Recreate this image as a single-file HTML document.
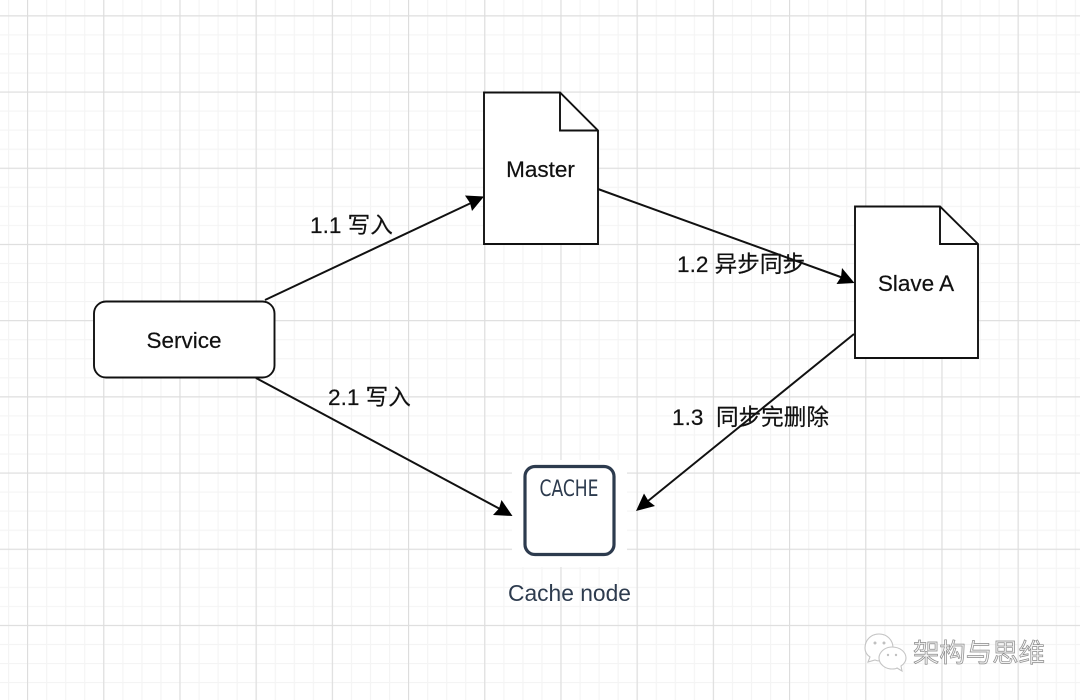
<!DOCTYPE html>
<html lang="zh">
<head>
<meta charset="utf-8">
<title>Cache diagram</title>
<style>
html,body{margin:0;padding:0;background:#fff}
body{width:1080px;height:700px;overflow:hidden}
svg{display:block}
text{font-family:"Liberation Sans","Noto Sans CJK SC",sans-serif;fill:#111}
.lab{font-size:22.6px;stroke:#111;stroke-width:.2px}
.node{font-size:22.5px;text-anchor:middle;stroke:#111;stroke-width:.2px}
</style>
</head>
<body>
<svg width="1080" height="700" viewBox="0 0 1080 700" xmlns="http://www.w3.org/2000/svg">
<defs>
<pattern id="minor" x="8" y="15.3" width="19.05" height="19.05" patternUnits="userSpaceOnUse">
<path d="M0.5 0V19.05M0 0.5H19.05" stroke="#f4f4f4" stroke-width="1.3" fill="none"/>
</pattern>
<pattern id="major" x="27" y="15.3" width="76.2" height="76.2" patternUnits="userSpaceOnUse">
<path d="M0.5 0V76.2M0 0.5H76.2" stroke="#dddddd" stroke-width="1.2" fill="none"/>
</pattern>
</defs>
<rect width="1080" height="700" fill="#fff"/>
<rect width="1080" height="700" fill="url(#minor)"/>
<rect width="1080" height="700" fill="url(#major)"/>

<!-- white background of cache icon -->
<rect x="512" y="460" width="115" height="107" fill="#fff"/>

<!-- connectors -->
<g stroke="#111" stroke-width="2" fill="none">
<line x1="265" y1="300" x2="471" y2="203"/>
<line x1="598" y1="189" x2="842" y2="277.500"/>
<line x1="854" y1="334" x2="648" y2="501"/>
<line x1="256" y1="378" x2="500" y2="509"/>
</g>
<g fill="#000">
<polygon points="484,196.500 465,195.500 470,203 472,211"/>
<polygon points="854.500,283 842,268 841,277 836.500,284"/>
<polygon points="636,511 644,493.500 648.500,501 655,506"/>
<polygon points="512.500,516 501.500,500 499,508.500 493,515"/>
</g>

<!-- Service -->
<rect x="94" y="301.500" width="180.500" height="76" rx="12" ry="12" fill="#fff" stroke="#111" stroke-width="1.900"/>
<text class="node" x="184" y="348">Service</text>

<!-- Master -->
<path d="M484 92.500H560L598 130.500V244H484Z" fill="#fff" stroke="#111" stroke-width="1.900"/>
<path d="M560 92.500V130.500H598" fill="none" stroke="#111" stroke-width="1.900"/>
<text class="node" x="540.500" y="177">Master</text>

<!-- Slave A -->
<path d="M855 206.500H940L978 244V358H855Z" fill="#fff" stroke="#111" stroke-width="1.900"/>
<path d="M940 206.500V244H978" fill="none" stroke="#111" stroke-width="1.900"/>
<text class="node" x="916" y="291">Slave A</text>

<!-- Cache -->
<rect x="525" y="466.500" width="89" height="88" rx="10" ry="10" fill="#fff" stroke="#2d3b4e" stroke-width="3.200"/>
<text x="569" y="496" text-anchor="middle" style="font-family:'DejaVu Sans','Liberation Sans',sans-serif;font-size:22px;fill:#2d3b4e" textLength="59" lengthAdjust="spacingAndGlyphs">CACHE</text>
<text x="569.500" y="601" text-anchor="middle" style="font-size:22.8px;fill:#2d3b4e">Cache node</text>

<!-- labels -->
<text class="lab" x="310" y="233">1.1 写入</text>
<text class="lab" x="677" y="272">1.2 异步同步</text>
<text class="lab" x="328" y="405">2.1 写入</text>
<text class="lab" x="672" y="425">1.3&#160;&#160;同步完删除</text>

<!-- watermark -->
<g fill="#fff" stroke="#c4c4c4" stroke-width="1.100">
<path d="M879 634C871 634 865 640 865 648C865 652 867 655 870 657L868 662L875 660C877 661 878 661 880 661C887 661 893 655 893 648C893 640 887 634 879 634Z"/>
<path d="M892 647C885 647 879 652 879 658C879 664 885 669 892 669C894 669 896 669 897 668L902 671L901 666C904 664 906 661 906 658C906 652 900 647 892 647Z"/>
</g>
<g fill="#c0c0c0">
<circle cx="875" cy="643" r="1.500"/><circle cx="884" cy="643" r="1.500"/>
<circle cx="888" cy="655" r="1.200"/><circle cx="896" cy="655" r="1.200"/>
</g>
<text x="913" y="662" style="font-size:26.400px;fill:#f4f4f4;stroke:#8a8a8a;stroke-width:0.700px">架构与思维</text>
</svg>
</body>
</html>
